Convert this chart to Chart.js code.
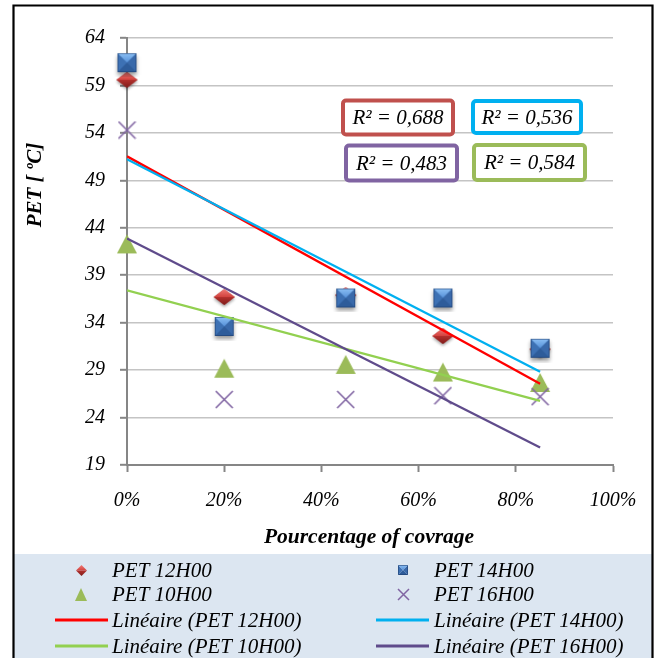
<!DOCTYPE html>
<html>
<head>
<meta charset="utf-8">
<script src="https://cdn.jsdelivr.net/npm/chart.js@4/dist/chart.umd.min.js"></script>
<style>
  html, body { margin: 0; padding: 0; background: #ffffff; }
  #c { display: block; }
</style>
</head>
<body>
<canvas id="c" width="659" height="658"></canvas>
<script>
// Coverage percentage of each measured site
const coverage = [0, 20, 45, 65, 85];
// PET readings (°C) per hour of the day
const pet12 = [59.6, 36.7, 36.9, 32.6, 31.2];
const pet14 = [61.4, 33.6, 36.6, 36.6, 31.3];
const pet10 = [42.3, 29.2, 29.6, 28.8, 27.7];
const pet16 = [54.3, 25.9, 25.9, 26.3, 26.2];
const seriesNames = ['PET 12H00', 'PET 14H00', 'PET 10H00', 'PET 16H00'];
const trendNames = ['Linéaire (PET 12H00)', 'Linéaire (PET 14H00)', 'Linéaire (PET 10H00)', 'Linéaire (PET 16H00)'];
const r2Labels = ['R² = 0,688', 'R² = 0,536', 'R² = 0,483', 'R² = 0,584'];
const yMin = 19, yMax = 64, yStep = 5;
const xMin = 0, xMax = 100, xStep = 20;

const SERIF = "'Liberation Serif', 'Times New Roman', serif";

// Least-squares line through the measured points, spanning the data range
function trend(xs, ys) {
  const n = xs.length;
  const mx = xs.reduce((a, b) => a + b, 0) / n;
  const my = ys.reduce((a, b) => a + b, 0) / n;
  let sxy = 0, sxx = 0;
  for (let i = 0; i < n; i++) { sxy += (xs[i] - mx) * (ys[i] - my); sxx += (xs[i] - mx) ** 2; }
  const m = sxy / sxx, b = my - m * mx;
  const x0 = Math.min(...xs), x1 = Math.max(...xs);
  return [{ x: x0, y: b + m * x0 }, { x: x1, y: b + m * x1 }];
}
const pts = ys => coverage.map((x, i) => ({ x, y: ys[i] }));

// ---- bevelled marker sprites ----
function sprite(w, h, pad, draw) {
  const c = document.createElement('canvas');
  c.width = w + pad * 2; c.height = h + pad * 2;
  const g = c.getContext('2d');
  g.translate(pad, pad);
  draw(g, w, h);
  return c;
}
function diamond(w, h, shadow) {
  return sprite(w, h, shadow ? 5 : 1, (g, W, H) => {
    const path = () => { g.beginPath(); g.moveTo(W / 2, 0); g.lineTo(W, H / 2); g.lineTo(W / 2, H); g.lineTo(0, H / 2); g.closePath(); };
    if (shadow) {
      g.save(); g.shadowColor = 'rgba(0,0,0,0.35)'; g.shadowBlur = 3; g.shadowOffsetY = 2;
      path(); g.fillStyle = '#a8322f'; g.fill(); g.restore();
    }
    let gr = g.createLinearGradient(0, 0, 0, H / 2);
    gr.addColorStop(0, '#f07a75'); gr.addColorStop(1, '#d2423e');
    g.beginPath(); g.moveTo(W / 2, 0); g.lineTo(W, H / 2); g.lineTo(0, H / 2); g.closePath(); g.fillStyle = gr; g.fill();
    gr = g.createLinearGradient(0, H / 2, 0, H);
    gr.addColorStop(0, '#b3302d'); gr.addColorStop(1, '#7e1c1a');
    g.beginPath(); g.moveTo(0, H / 2); g.lineTo(W, H / 2); g.lineTo(W / 2, H); g.closePath(); g.fillStyle = gr; g.fill();
  });
}
function square(s, shadow) {
  return sprite(s, s, shadow ? 5 : 1, (g, W, H) => {
    if (shadow) {
      g.save(); g.shadowColor = 'rgba(0,0,0,0.4)'; g.shadowBlur = 4; g.shadowOffsetY = 3;
      g.fillStyle = '#2f5d98'; g.fillRect(0, 0, W, H); g.restore();
    }
    const cx = W / 2, cy = H / 2;
    const tri = (a, b, col) => { g.beginPath(); g.moveTo(a[0], a[1]); g.lineTo(b[0], b[1]); g.lineTo(cx, cy); g.closePath(); g.fillStyle = col; g.fill(); };
    const gt = g.createLinearGradient(0, 0, 0, cy);
    gt.addColorStop(0, '#8cc0f5'); gt.addColorStop(1, '#5590d8');
    tri([0, H], [W, H], '#2e5c9a');
    tri([0, 0], [0, H], '#3d71b4');
    tri([W, 0], [W, H], '#3969aa');
    tri([0, 0], [W, 0], gt);
    g.strokeStyle = 'rgba(30,60,110,0.55)'; g.lineWidth = 1; g.strokeRect(0.5, 0.5, W - 1, H - 1);
  });
}
function triangle(w, h) {
  return sprite(w, h, 1, (g, W, H) => {
    g.beginPath(); g.moveTo(W / 2, 0); g.lineTo(W, H); g.lineTo(0, H); g.closePath();
    g.fillStyle = '#9bbb59'; g.fill();
  });
}
function cross(s, lw) {
  return sprite(s, s, 1, (g, W, H) => {
    g.strokeStyle = '#8064a2'; g.lineWidth = lw; g.lineCap = 'butt';
    g.beginPath(); g.moveTo(0, 0); g.lineTo(W, H); g.moveTo(W, 0); g.lineTo(0, H); g.stroke();
  });
}

const markers = [diamond(21, 16, true), square(19, true), triangle(20, 19), cross(17, 1.6)];
const legendMarkers = [diamond(11, 11, false), square(10, false), triangle(12, 13), cross(11, 1.5)];
const seriesValues = [pet12, pet14, pet10, pet16];
const trendColors = ['#ff0000', '#00b0f0', '#92d050', '#5f4b8b'];
const boxColors = ['#c0504d', '#00b0f0', '#8064a2', '#9bbb59'];

// Higher "order" is painted first: markers stack 12H, 14H, 10H, 16H, trend lines on top
const datasets = [];
seriesValues.forEach((ys, i) => {
  datasets.push({
    label: seriesNames[i], data: pts(ys), showLine: false, clip: false, order: 20 - i,
    pointStyle: markers[i], pointRadius: 10, pointHoverRadius: 10,
    legendMarker: legendMarkers[i]
  });
});
seriesValues.forEach((ys, i) => {
  datasets.push({
    label: trendNames[i], data: trend(coverage, ys), showLine: true, order: 10 - i,
    borderColor: trendColors[i], borderWidth: 2.3, pointRadius: 0, pointHoverRadius: 0,
    fill: false, tension: 0
  });
});

// R² boxes: centre position, width, height
const r2Boxes = [
  { cx: 398, cy: 117.5, w: 110, h: 34 },
  { cx: 527, cy: 117, w: 108, h: 32 },
  { cx: 401.5, cy: 163, w: 111, h: 35 },
  { cx: 529.5, cy: 162.5, w: 111, h: 35 }
];

const decor = {
  id: 'decor',
  beforeDraw(chart) {
    const g = chart.ctx;
    g.save();
    g.fillStyle = '#ffffff'; g.fillRect(0, 0, chart.width, chart.height);
    g.fillStyle = '#dce6f1'; g.fillRect(14, 554, 638, 110);
    g.restore();
  },
  afterDraw(chart) {
    const g = chart.ctx;
    g.save();
    // frame
    g.strokeStyle = '#000000'; g.lineWidth = 2.2;
    g.beginPath(); g.moveTo(13.5, 700); g.lineTo(13.5, 5.5); g.lineTo(652.5, 5.5); g.lineTo(652.5, 700); g.stroke();

    // axis titles
    g.fillStyle = '#000000';
    g.font = `italic bold 21.5px ${SERIF}`;
    g.textAlign = 'center'; g.textBaseline = 'middle';
    g.fillText('Pourcentage of covrage', 369, 537);
    g.font = `italic bold 21px ${SERIF}`;
    g.save(); g.translate(36, 185); g.rotate(-Math.PI / 2); g.fillText('PET [ ºC]', 0, 0); g.restore();

    // R² boxes
    g.font = `italic 21px ${SERIF}`;
    r2Boxes.forEach((b, i) => {
      const x = b.cx - b.w / 2, y = b.cy - b.h / 2;
      g.beginPath(); g.roundRect(x, y, b.w, b.h, 3);
      g.fillStyle = '#ffffff'; g.fill();
      g.lineWidth = 4; g.strokeStyle = boxColors[i]; g.stroke();
      g.fillStyle = '#000000'; g.fillText(r2Labels[i], b.cx, b.cy + 1);
    });

    // legend, two columns in dataset order
    const colMarker = [81, 403], colText = [112, 434], colLine = [[55, 108], [376, 429]];
    const rowY = [570, 594.5, 620, 646];
    g.font = `italic 21px ${SERIF}`;
    g.textAlign = 'left'; g.textBaseline = 'middle';
    chart.data.datasets.forEach((ds, i) => {
      const col = i % 2, row = Math.floor(i / 2), y = rowY[row];
      if (ds.showLine) {
        g.strokeStyle = ds.borderColor; g.lineWidth = 3;
        g.beginPath(); g.moveTo(colLine[col][0], y); g.lineTo(colLine[col][1], y); g.stroke();
      } else {
        const m = ds.legendMarker;
        g.drawImage(m, Math.round(colMarker[col] - m.width / 2), Math.round(y - m.height / 2));
      }
      g.fillStyle = '#000000'; g.fillText(ds.label, colText[col], y + 1);
    });
    g.restore();
  }
};

new Chart(document.getElementById('c'), {
  type: 'scatter',
  data: { datasets },
  options: {
    responsive: false,
    animation: false,
    devicePixelRatio: 1,
    layout: { padding: { left: 0, top: 38, right: 46, bottom: 0 } },
    plugins: { legend: { display: false }, tooltip: { enabled: false } },
    scales: {
      x: {
        type: 'linear', min: xMin, max: xMax,
        afterFit(s) { s.height = 193; },
        ticks: {
          stepSize: xStep, padding: 17, color: '#000000',
          font: { family: SERIF, size: 20, style: 'italic' },
          callback: v => v + '%'
        },
        grid: { drawOnChartArea: false, drawTicks: true, tickLength: 7, tickColor: '#868686', tickWidth: 2 },
        border: { color: '#868686', width: 2 }
      },
      y: {
        type: 'linear', min: yMin, max: yMax,
        afterFit(s) { s.width = 127; },
        ticks: {
          stepSize: yStep, padding: 15, color: '#000000',
          font: { family: SERIF, size: 20, style: 'italic' }
        },
        grid: { color: '#c4c4c4', lineWidth: 1.6, tickLength: 7, tickColor: '#868686', tickWidth: 2 },
        border: { color: '#868686', width: 2 }
      }
    }
  },
  plugins: [decor]
});
</script>
</body>
</html>
